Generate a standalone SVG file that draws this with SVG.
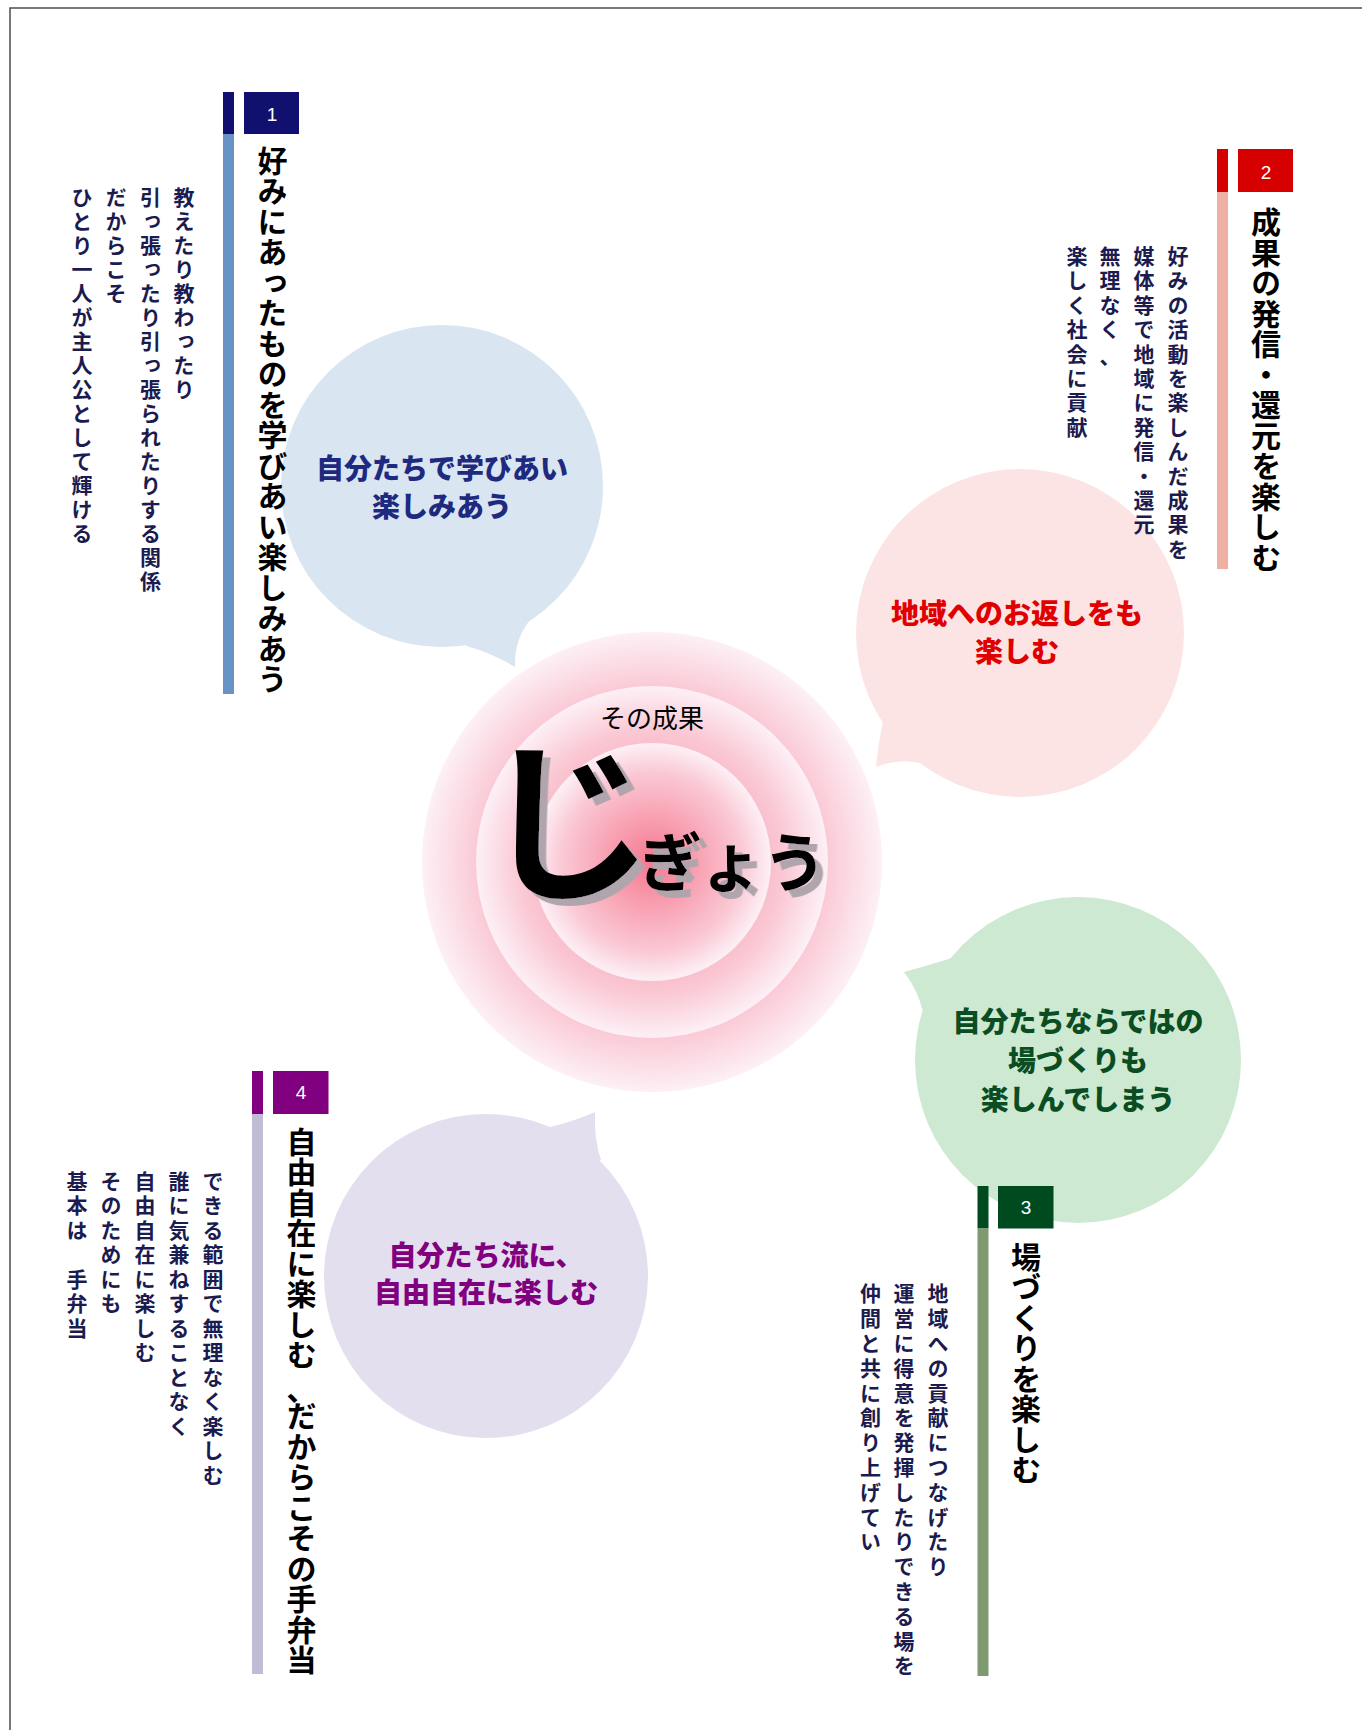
<svg xmlns="http://www.w3.org/2000/svg" width="1362" height="1730" viewBox="0 0 1362 1730">
<defs>
<radialGradient id="glow" cx="0.5" cy="0.5" r="0.5">
<stop offset="0" stop-color="#f6788f"/>
<stop offset="0.4" stop-color="#f8a3b4"/>
<stop offset="0.75" stop-color="#fac8d4"/>
<stop offset="1" stop-color="#fdf0f6"/>
</radialGradient>
<filter id="sh" x="-10%" y="-10%" width="130%" height="130%">
<feDropShadow dx="7.5" dy="7" stdDeviation="0" flood-color="#b0a5ad" flood-opacity="1"/>
</filter>
</defs>
<style>
text{font-family:"Noto Sans CJK JP","Noto Sans",sans-serif;}
.v{writing-mode:vertical-rl;}
.title{font-size:30px;font-weight:700;fill:#000;letter-spacing:0.5px;}
.body{font-size:21px;font-weight:700;fill:#1b1b4f;letter-spacing:3.4px;}
.hz{font-size:21px;font-weight:700;fill:#1b1b4f;}
.num{font-family:"Liberation Sans",Arial,sans-serif;font-size:19px;fill:#fff;text-anchor:middle;}
.bub{font-size:28px;font-weight:900;text-anchor:middle;}
</style>
<rect width="1362" height="1730" fill="#fff"/>
<path d="M10,1730 V8 H1362" fill="none" stroke="#4d4d4d" stroke-width="1.5"/>

<g id="center">
<circle cx="652" cy="862" r="230" fill="url(#glow)"/>
<circle cx="652" cy="862" r="176" fill="url(#glow)"/>
<circle cx="652" cy="862" r="119" fill="url(#glow)"/>
<text x="652" y="728" text-anchor="middle" font-size="26" fill="#000">その成果</text>
<text x="482" y="886" font-weight="700" fill="#000" filter="url(#sh)"><tspan font-size="172">じ</tspan><tspan font-size="64" dx="-16">ぎょう</tspan></text>
</g>

<g id="connectors"/>

<g id="bubble1">
<circle cx="442" cy="486" r="161" fill="#d9e5f1"/>
<path d="M466,646 Q490,652 515,667 Q514,640 530,620 L500,600 Z" fill="#d9e5f1"/>
<text class="bub" x="442" y="479" fill="#1e2a80">自分たちで学びあい</text>
<text class="bub" x="442" y="517" fill="#1e2a80">楽しみあう</text>
</g>

<g id="bubble2">
<circle cx="1020" cy="633" r="164" fill="#fce4e4"/>
<path d="M884,716 Q878,745 876,767 Q898,758 920,763 L950,720 Z" fill="#fce4e4"/>
<text class="bub" x="1017" y="624" fill="#e00000">地域へのお返しをも</text>
<text class="bub" x="1017" y="662" fill="#e00000">楽しむ</text>
</g>

<g id="bubble3">
<circle cx="1078" cy="1060" r="163" fill="#cde9d2"/>
<path d="M952,958 Q926,966 904,972 Q918,990 923,1012 L970,1000 Z" fill="#cde9d2"/>
<text class="bub" x="1078" y="1032" fill="#0b4d22">自分たちならではの</text>
<text class="bub" x="1078" y="1071" fill="#0b4d22">場づくりも</text>
<text class="bub" x="1078" y="1110" fill="#0b4d22">楽しんでしまう</text>
</g>

<g id="bubble4">
<circle cx="486" cy="1276" r="162" fill="#e4dfee"/>
<path d="M550,1127 Q575,1121 595,1112 Q594,1140 601,1160 L560,1180 Z" fill="#e4dfee"/>
<text class="bub" x="486" y="1266" fill="#800080">自分たち流に、</text>
<text class="bub" x="486" y="1303" fill="#800080">自由自在に楽しむ</text>
</g>

<g id="panel1">
<rect x="223" y="92" width="11" height="42" fill="#12106e"/>
<rect x="223" y="134" width="11" height="560" fill="#6894c5"/>
<rect x="244" y="92" width="55" height="42" fill="#12106e"/>
<text class="num" x="272" y="121">1</text>
<text class="v title" x="272.5" y="145.5">好みにあったものを学びあい楽しみあう</text>
<text class="v body" x="184" y="187" style="letter-spacing:3px">教えたり教わったり</text>
<text class="v body" x="150.5" y="187" style="letter-spacing:3px">引っ張ったり引っ張られたりする関係</text>
<text class="v body" x="116" y="187" style="letter-spacing:3px">だからこそ</text>
<text class="v body" x="82" y="187" style="letter-spacing:3px">ひとり一人が主人公として輝ける</text>
</g>

<g id="panel2">
<rect x="1217" y="149" width="11" height="43" fill="#d70000"/>
<rect x="1217" y="192" width="11" height="377" fill="#efb0a3"/>
<rect x="1238" y="149" width="55" height="43" fill="#d70000"/>
<text class="num" x="1266" y="179">2</text>
<text class="v title" x="1266" y="207">成果の発信・還元を楽しむ</text>
<text class="v body" x="1178" y="245.5">好みの活動を楽しんだ成果を</text>
<text class="v body" x="1144" y="245.5">媒体等で地域に発信・還元</text>
<text class="v body" x="1110" y="245.5">無理なく</text>
<text class="hz" x="1099.5" y="364">、</text>
<text class="v body" x="1077" y="245.5">楽しく社会に貢献</text>
</g>

<g id="panel3">
<rect x="977.5" y="1186" width="11" height="42.5" fill="#004a1f"/>
<rect x="977.5" y="1228.5" width="11" height="447.5" fill="#7f9a70"/>
<rect x="998" y="1186" width="55.5" height="42.5" fill="#004a1f"/>
<text class="num" x="1026" y="1214">3</text>
<text class="v title" x="1026" y="1241.5">場づくりを楽しむ</text>
<text class="v body" x="938" y="1283" style="letter-spacing:3.8px">地域への貢献につなげたり</text>
<text class="v body" x="904" y="1283" style="letter-spacing:3.8px">運営に得意を発揮したりできる場を</text>
<text class="v body" x="870.5" y="1283" style="letter-spacing:3.8px">仲間と共に創り上げてい</text>
</g>

<g id="panel4">
<rect x="252" y="1071" width="11" height="43" fill="#800080"/>
<rect x="252" y="1114" width="11" height="560" fill="#c1bcd6"/>
<rect x="273" y="1071" width="55.5" height="43" fill="#800080"/>
<text class="num" x="301" y="1099">4</text>
<text class="v title" x="301.5" y="1126.5">自由自在に楽しむ</text>
<text class="title" x="286.5" y="1400">、</text>
<text class="v title" x="301.5" y="1401">だからこその手弁当</text>
<text class="v body" x="213" y="1170.5" style="letter-spacing:3.5px">できる範囲で無理なく楽しむ</text>
<text class="v body" x="179" y="1170.5" style="letter-spacing:3.5px">誰に気兼ねすることなく</text>
<text class="v body" x="145" y="1170.5" style="letter-spacing:3.5px">自由自在に楽しむ</text>
<text class="v body" x="111" y="1170.5" style="letter-spacing:3.5px">そのためにも</text>
<text class="v body" x="77" y="1170.5" style="letter-spacing:3.5px">基本は　手弁当</text>
</g>
</svg>
